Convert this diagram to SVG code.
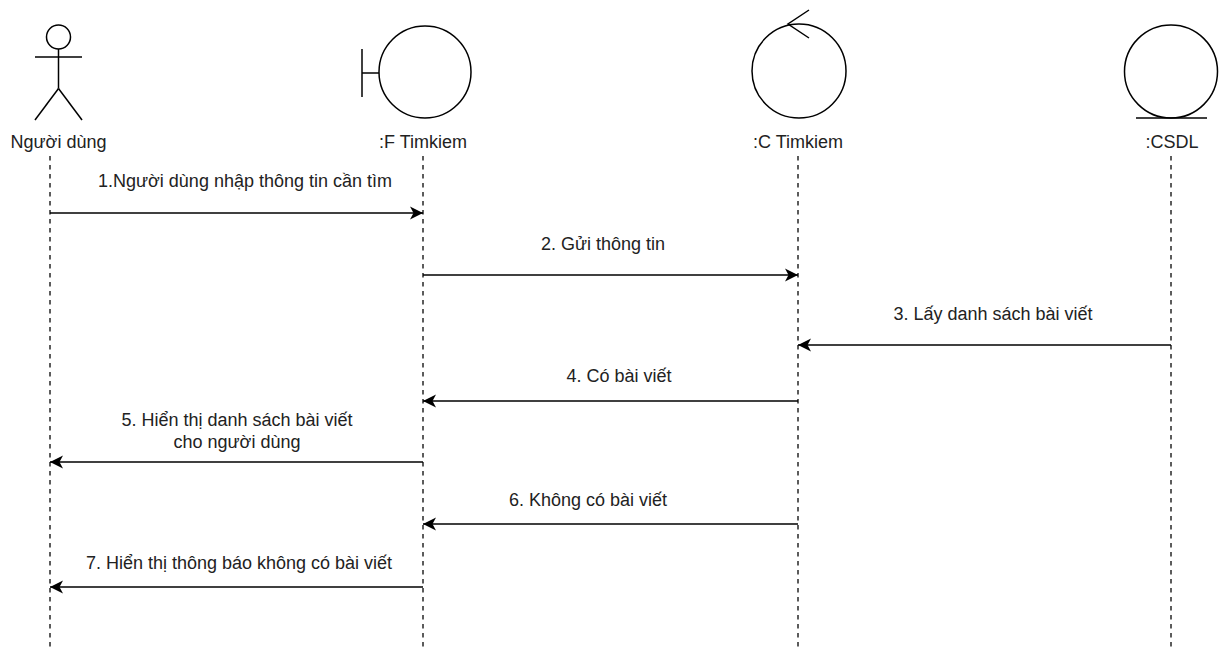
<svg xmlns="http://www.w3.org/2000/svg" width="1224" height="648" viewBox="0 0 1224 648">
<style>
.shape{fill:none;stroke:#000;stroke-width:1.5}
.life{fill:none;stroke:#000;stroke-width:1.5;stroke-dasharray:4.5 4.5;opacity:0.85}
.msg{fill:none;stroke:#000;stroke-width:1.5}
text{font-family:"Liberation Sans",Arial,Helvetica,sans-serif;font-size:18px;fill:#222;text-anchor:middle}
</style>
<defs>
<marker id="arr" markerUnits="userSpaceOnUse" markerWidth="16" markerHeight="16" viewBox="-14 -8 16 16" refX="0" refY="0" orient="auto">
<path d="M0,0 L-13,-6.5 L-9.5,0 L-13,6.5 Z" fill="#000"/>
</marker>
</defs>
<rect width="1224" height="648" fill="#fff"/>
<g id="lifelines">
<line class="life" x1="50" y1="156" x2="50" y2="648"/>
<line class="life" x1="423" y1="156" x2="423" y2="648"/>
<line class="life" x1="798" y1="156" x2="798" y2="648"/>
<line class="life" x1="1171" y1="156" x2="1171" y2="648"/>
</g>
<g id="actor-nguoidung">
<circle class="shape" cx="58.5" cy="37" r="12"/>
<line class="shape" x1="58.5" y1="49" x2="58.5" y2="88.5"/>
<line class="shape" x1="35" y1="57" x2="82" y2="57"/>
<line class="shape" x1="58.5" y1="88.5" x2="35" y2="120"/>
<line class="shape" x1="58.5" y1="88.5" x2="82" y2="120"/>
<text x="58.5" y="148">Người dùng</text>
</g>
<g id="boundary-ftimkiem">
<circle class="shape" cx="425" cy="72" r="46"/>
<line class="shape" x1="362" y1="49" x2="362" y2="97"/>
<line class="shape" x1="362" y1="73" x2="379" y2="73"/>
<text x="423" y="148">:F Timkiem</text>
</g>
<g id="control-ctimkiem">
<circle class="shape" cx="799" cy="71" r="47"/>
<polyline class="shape" points="809,10 788,24 809,38"/>
<text x="798" y="148">:C Timkiem</text>
</g>
<g id="entity-csdl">
<circle class="shape" cx="1171" cy="71.5" r="46.5"/>
<line class="shape" x1="1136" y1="118" x2="1207" y2="118"/>
<text x="1172" y="148">:CSDL</text>
</g>
<g id="connectors">
<line class="msg" x1="50" y1="213" x2="423" y2="213" marker-end="url(#arr)"/>
<line class="msg" x1="423" y1="275" x2="798" y2="275" marker-end="url(#arr)"/>
<line class="msg" x1="1171" y1="345" x2="798" y2="345" marker-end="url(#arr)"/>
<line class="msg" x1="798" y1="401" x2="423" y2="401" marker-end="url(#arr)"/>
<line class="msg" x1="423" y1="462" x2="50" y2="462" marker-end="url(#arr)"/>
<line class="msg" x1="798" y1="524" x2="423" y2="524" marker-end="url(#arr)"/>
<line class="msg" x1="423" y1="587" x2="50" y2="587" marker-end="url(#arr)"/>
</g>
<g id="labels">
<text x="245" y="187">1.Người dùng nhập thông tin cần tìm</text>
<text x="603" y="250">2. Gửi thông tin</text>
<text x="993" y="320">3. Lấy danh sách bài viết</text>
<text x="619" y="382">4. Có bài viết</text>
<text x="237" y="426">5. Hiển thị danh sách bài viết</text>
<text x="237" y="448">cho người dùng</text>
<text x="588" y="506">6. Không có bài viết</text>
<text x="239" y="569">7. Hiển thị thông báo không có bài viết</text>
</g>
</svg>
